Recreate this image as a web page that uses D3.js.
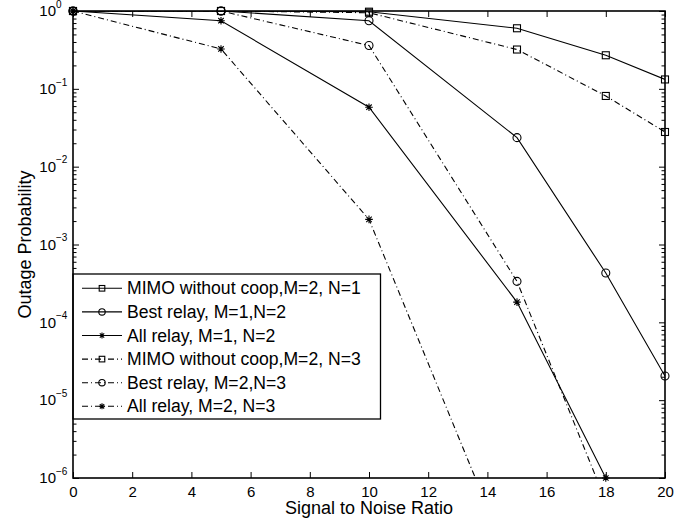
<!DOCTYPE html>
<html>
<head>
<meta charset="utf-8">
<script src="https://cdn.jsdelivr.net/npm/d3@7"></script>
<style>
body { margin: 0; background: #fff; }
svg text { font-family: "Liberation Sans", Arial, Helvetica, sans-serif; fill: #000; }
</style>
</head>
<body>
<svg id="chart"></svg>
<script>
const w = 689
const h = 520
const margin = { left: 73, top: 11, right: 24, bottom: 42 }
const innerWidth = w - margin.left - margin.right
const innerHeight = h - margin.top - margin.bottom

// data (null = below the plot / not drawn)
const snr = [0, 5, 10, 15, 18, 20]
const mimoM2N1 = [1, 1, 0.98, 0.6, 0.27, 0.132]
const bestM1N2 = [1, 1, 0.75, 0.0236, 4.3e-4, 2.04e-5]
const allM1N2 = [1, 0.75, 0.058, 1.82e-4, 1e-6, null]
const mimoM2N3 = [1, 1, 0.95, 0.32, 0.081, 0.0279]
const bestM2N3 = [1, 1, 0.36, 3.36e-4, 5e-7, null]
const allM2N3 = [1, 0.325, 0.0021, 5e-8, null, null]

const seriesNames = [
	'MIMO without coop,M=2, N=1',
	'Best relay, M=1,N=2',
	'All relay, M=1, N=2',
	'MIMO without coop,M=2, N=3',
	'Best relay, M=2,N=3',
	'All relay, M=2, N=3'
]
const xTicks = [0, 2, 4, 6, 8, 10, 12, 14, 16, 18, 20]
const yDecades = [1e-6, 1e-5, 1e-4, 1e-3, 1e-2, 1e-1, 1]
const yExponents = ['\u22126', '\u22125', '\u22124', '\u22123', '\u22122', '\u22121', '0']

const series = [
	{ name: seriesNames[0], values: mimoM2N1, marker: 'square', dash: null },
	{ name: seriesNames[1], values: bestM1N2, marker: 'circle', dash: null },
	{ name: seriesNames[2], values: allM1N2, marker: 'star', dash: null },
	{ name: seriesNames[3], values: mimoM2N3, marker: 'square', dash: '6,3,1,3' },
	{ name: seriesNames[4], values: bestM2N3, marker: 'circle', dash: '6,3,1,3' },
	{ name: seriesNames[5], values: allM2N3, marker: 'star', dash: '6,3,1,3' }
]

const svg = d3.select('#chart').attr('width', w).attr('height', h)
const inner = svg.append('g').attr('transform', `translate(${margin.left}, ${margin.top})`)

const xScale = d3.scaleLinear().domain([0, 20]).range([0, innerWidth])
const yScale = d3.scaleLog().domain([1e-6, 1]).range([innerHeight, 0])

// minor ticks 2..9 per decade
let minorTicks = []
yDecades.slice(0, -1).forEach(d => {
	for (let k = 2; k <= 9; k++) minorTicks.push(d * k)
})

svg.append('defs').append('clipPath').attr('id', 'clip')
	.append('rect').attr('width', innerWidth).attr('height', innerHeight)

// axes with inward ticks
const xBottom = inner.append('g').attr('transform', `translate(0, ${innerHeight})`)
	.call(d3.axisBottom(xScale).tickValues(xTicks).tickSizeInner(-6).tickSizeOuter(0).tickPadding(8))
xBottom.selectAll('text').attr('font-size', 15)
inner.append('g')
	.call(d3.axisTop(xScale).tickValues(xTicks).tickSizeInner(-6).tickSizeOuter(0).tickFormat(''))

const yLeft = inner.append('g')
	.call(d3.axisLeft(yScale).tickValues(yDecades).tickSizeInner(-6).tickSizeOuter(0).tickPadding(17).tickFormat(() => '10'))
inner.append('g')
	.call(d3.axisLeft(yScale).tickValues(minorTicks).tickSizeInner(-3.5).tickSizeOuter(0).tickFormat(''))
inner.append('g').attr('transform', `translate(${innerWidth}, 0)`)
	.call(d3.axisRight(yScale).tickValues(yDecades).tickSizeInner(-6).tickSizeOuter(0).tickFormat(''))
inner.append('g').attr('transform', `translate(${innerWidth}, 0)`)
	.call(d3.axisRight(yScale).tickValues(minorTicks).tickSizeInner(-3.5).tickSizeOuter(0).tickFormat(''))

// exponent as a separate small label
yLeft.selectAll('.tick text').attr('font-size', 15)
yLeft.selectAll('.tick').append('text')
	.attr('x', -17).attr('y', -7).attr('dy', '0.32em')
	.attr('text-anchor', 'start').attr('font-size', 10)
	.text(d => yExponents[yDecades.indexOf(d)])

// drop empty labels of the tick-only axes
inner.selectAll('.tick text').filter(function () { return this.textContent === '' }).remove()
inner.selectAll('.domain').remove()
inner.selectAll('.tick line').attr('stroke', '#000').attr('stroke-width', 1)

// data lines
const line = d3.line()
	.defined(d => d.v !== null)
	.x(d => xScale(d.x))
	.y(d => yScale(d.v))

const plot = inner.append('g')
series.forEach(s => {
	let pts = snr.map((x, i) => ({ x: x, v: s.values[i] }))
	plot.append('path')
		.attr('clip-path', 'url(#clip)')
		.attr('d', line(pts))
		.attr('fill', 'none')
		.attr('stroke', '#000')
		.attr('stroke-width', 1.1)
		.attr('stroke-dasharray', s.dash)
	let visible = pts.filter(p => p.v !== null && p.v >= 1e-6)
	visible.forEach(p => drawMarker(plot, s.marker, xScale(p.x), yScale(p.v), 1))
})

function drawMarker(g, type, cx, cy, scale) {
	if (type === 'square') {
		const r = 3.5 * scale
		g.append('rect').attr('x', cx - r).attr('y', cy - r).attr('width', 2 * r).attr('height', 2 * r)
			.attr('fill', 'none').attr('stroke', '#000').attr('stroke-width', 1.1)
	} else if (type === 'circle') {
		g.append('circle').attr('cx', cx).attr('cy', cy).attr('r', 4 * scale)
			.attr('fill', 'none').attr('stroke', '#000').attr('stroke-width', 1.1)
	} else {
		const r = 3.8 * scale
		const d = r * 0.72
		g.append('path')
			.attr('d', `M${cx - r},${cy}H${cx + r}M${cx},${cy - r}V${cy + r}M${cx - d},${cy - d}L${cx + d},${cy + d}M${cx - d},${cy + d}L${cx + d},${cy - d}`)
			.attr('stroke', '#000').attr('stroke-width', 1.1).attr('fill', 'none')
	}
}

// legend
const legend = inner.append('g')
legend.append('rect')
	.attr('x', 0).attr('y', 263).attr('width', 307.5).attr('height', 145)
	.attr('fill', '#fff').attr('stroke', '#000').attr('stroke-width', 1.3)
series.forEach((s, i) => {
	const ly = 277.3 + i * 23.6
	legend.append('line').attr('x1', 9).attr('x2', 49).attr('y1', ly).attr('y2', ly)
		.attr('stroke', '#000').attr('stroke-width', 1.1).attr('stroke-dasharray', s.dash)
	drawMarker(legend, s.marker, 29, ly, 0.8)
	legend.append('text').attr('x', 54).attr('y', ly).attr('dy', '0.35em')
		.attr('font-size', 17.6).text(s.name)
})

// box
inner.append('rect').attr('width', innerWidth).attr('height', innerHeight)
	.attr('fill', 'none').attr('stroke', '#000').attr('stroke-width', 1.6)

// titles
svg.append('text').attr('x', margin.left + innerWidth / 2).attr('y', 514)
	.attr('text-anchor', 'middle').attr('font-size', 18).text('Signal to Noise Ratio')
svg.append('text').attr('transform', `translate(31, ${margin.top + innerHeight / 2}) rotate(-90)`)
	.attr('text-anchor', 'middle').attr('font-size', 18).text('Outage Probability')
</script>
</body>
</html>
